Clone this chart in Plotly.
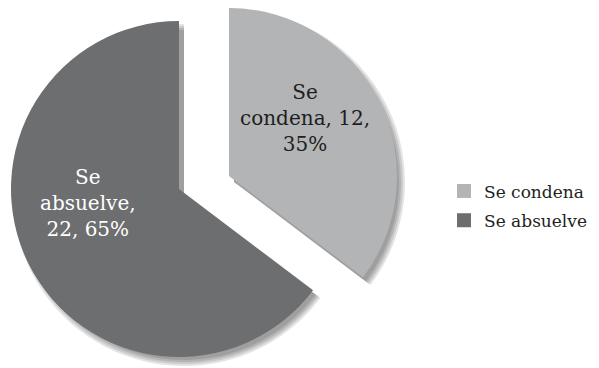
import plotly.graph_objects as go

# ---- data ----
labels = ["Se condena", "Se absuelve"]
values = [12, 22]
colors = ["#b3b4b6", "#6d6e70"]
text_colors = ["#1e1e1e", "#ffffff"]

total = sum(values)
slice_text = [
    "Se<br>condena, {},<br>{}%".format(values[0], round(values[0] * 100 / total)),
    "Se<br>absuelve,<br>{}, {}%".format(values[1], round(values[1] * 100 / total)),
]

W, H = 599, 368
PAGE = 8                     # default page margin around the figure
R = 168                      # pie radius in px
CX, CY = 179 - PAGE, 189 - PAGE
EXPLODE = (50, -13)          # pixel offset of the exploded slice (Se condena)
offsets = [EXPLODE, (0, 0)]
label_pos = [(305 - PAGE, 118 - PAGE), (88 - PAGE, 203 - PAGE)]

FONT = "DejaVu Serif"


def domain_for(cx, cy, r):
    clamp = lambda v: min(1.0, max(0.0, v))
    return dict(x=[clamp((cx - r) / W), clamp((cx + r) / W)],
                y=[clamp(1 - (cy + r) / H), clamp(1 - (cy - r) / H)])


fig = go.Figure()

# soft drop shadow (layered, semi-transparent copies)
for i in range(2):
    ox, oy = offsets[i]
    for e in [0, 2, 4, 6]:
        cols = ["rgba(0,0,0,0)"] * 2
        cols[i] = "rgba(0,0,0,0.11)"
        fig.add_trace(go.Pie(
            labels=labels, values=values, sort=False, direction="clockwise", rotation=0,
            marker=dict(colors=cols, line=dict(width=0)),
            textinfo="none", hoverinfo="skip", showlegend=False,
            domain=domain_for(CX + ox + 5, CY + oy + 6, R + e - 3),
        ))

# main slices (each drawn in its own trace so one can be exploded)
for i in range(2):
    ox, oy = offsets[i]
    cols = ["rgba(0,0,0,0)"] * 2
    cols[i] = colors[i]
    fig.add_trace(go.Pie(
        labels=labels, values=values, sort=False, direction="clockwise", rotation=0,
        marker=dict(colors=cols, line=dict(width=0)),
        textinfo="none",
        hoverinfo="label+value+percent", showlegend=False,
        domain=domain_for(CX + ox, CY + oy, R),
    ))

# slice labels
for i in range(2):
    lx, ly = label_pos[i]
    fig.add_annotation(
        x=lx / W, y=1 - ly / H, xref="paper", yref="paper",
        text=slice_text[i], showarrow=False, align="center",
        xanchor="center", yanchor="middle",
        font=dict(family=FONT, size=20, color=text_colors[i]),
    )

# legend entries
for lab, col in zip(labels, colors):
    fig.add_trace(go.Scatter(
        x=[None], y=[None], mode="markers", name=lab, legendgroup=lab,
        marker=dict(symbol="square", size=14, color=col),
        showlegend=True,
    ))

fig.update_layout(
    width=W, height=H,
    margin=dict(l=0, r=0, t=0, b=0),
    paper_bgcolor="white", plot_bgcolor="white",
    xaxis=dict(visible=False), yaxis=dict(visible=False),
    legend=dict(x=(444 - PAGE) / W, y=1 - (206 - PAGE) / H, xanchor="left", yanchor="middle",
                font=dict(family=FONT, size=17, color="#231f20"),
                tracegroupgap=4, bgcolor="rgba(0,0,0,0)"),
    font=dict(family=FONT),
)

fig.write_html("out.html")
